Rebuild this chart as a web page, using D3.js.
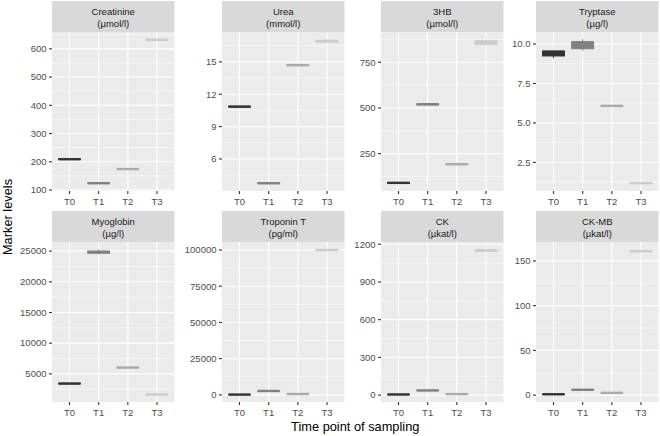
<!DOCTYPE html>
<html><head><meta charset="utf-8">
<script src="https://cdn.jsdelivr.net/npm/d3@7"></script>
<style>body{margin:0;background:#fff} svg{display:block} text{font-family:"Liberation Sans",Arial,Helvetica,sans-serif}</style>
</head><body><svg id="c" width="660" height="436"></svg>
<script>
// ---- data ----
const times = ["T0", "T1", "T2", "T3"];
const markers = ["Creatinine", "Urea", "3HB", "Tryptase", "Myoglobin", "Troponin T", "CK", "CK-MB"];
const units = ["(µmol/l)", "(mmol/l)", "(µmol/l)", "(µg/l)", "(µg/l)", "(pg/ml)", "(µkat/l)", "(µkat/l)"];
// five-number summaries per time point: [low whisker, q1, median, q3, high whisker]
const creatinine = [[207, 208, 209, 210, 211], [122, 123, 124, 125, 126], [172, 173, 174, 175, 176], [629, 630, 632, 633, 634]];
const urea = [[10.8, 10.82, 10.85, 10.88, 10.9], [3.7, 3.72, 3.75, 3.78, 3.8], [14.55, 14.65, 14.7, 14.75, 14.8], [16.8, 16.85, 16.9, 17.0, 17.1]];
const hb3 = [[85, 87, 90, 92, 95], [515, 517, 520, 522, 525], [188, 190, 192, 194, 196], [842, 848, 858, 868, 876]];
const tryptase = [[9.1, 9.24, 9.4, 9.56, 9.6], [9.57, 9.7, 9.95, 10.15, 10.3], [6.05, 6.07, 6.08, 6.1, 6.12], [1.15, 1.17, 1.19, 1.21, 1.23]];
const myoglobin = [[3350, 3380, 3420, 3460, 3500], [24500, 24650, 24850, 25000, 25300], [5950, 6000, 6030, 6060, 6100], [1600, 1620, 1640, 1660, 1680]];
const troponinT = [[100, 150, 200, 250, 300], [2400, 2550, 2700, 2850, 3000], [400, 500, 600, 700, 800], [99500, 99800, 100000, 100200, 100500]];
const ck = [[3, 4, 5, 6, 7], [35, 36, 37, 38, 39], [6, 7, 8, 9, 10], [1140, 1145, 1150, 1155, 1160]];
const ckmb = [[0.5, 0.8, 1, 1.2, 1.5], [5.5, 5.8, 6, 6.2, 6.5], [2.2, 2.4, 2.6, 2.8, 3], [160, 160.4, 160.8, 161.2, 163]];
// y tick labels per panel
const ticksCreatinine = [100, 200, 300, 400, 500, 600];
const ticksUrea = [6, 9, 12, 15];
const ticks3HB = [250, 500, 750];
const ticksTryptase = [2.5, 5.0, 7.5, 10.0];
const ticksMyoglobin = [5000, 10000, 15000, 20000, 25000];
const ticksTroponinT = [0, 25000, 50000, 75000, 100000];
const ticksCK = [0, 300, 600, 900, 1200];
const ticksCKMB = [0, 50, 100, 150];

const seriesList = [creatinine, urea, hb3, tryptase, myoglobin, troponinT, ck, ckmb];
const tickList = [ticksCreatinine, ticksUrea, ticks3HB, ticksTryptase, ticksMyoglobin, ticksTroponinT, ticksCK, ticksCKMB];
const tickFmt = [d3.format("d"), d3.format("d"), d3.format("d"), d3.format(".1f"), d3.format("d"), d3.format("d"), d3.format("d"), d3.format("d")];

// ---- layout ----
const svg = d3.select("#c");
const colLeft = [52, 222, 381, 536], panelW = 122.5;
const rowTop = [1, 211], stripH = 31, panelH = [159, 160];
const colors = ["#333333", "#818181", "#ABABAB", "#CCCCCC"];

markers.forEach((m, i) => {
  const col = i % 4, row = Math.floor(i / 4);
  const x0 = colLeft[col], sy = rowTop[row], y0 = sy + stripH, h = panelH[row];
  const data = seriesList[i];
  const lo = d3.min(data, d => d[0]), hi = d3.max(data, d => d[4]);
  const r = hi - lo;
  const y = d3.scaleLinear().domain([lo - 0.05 * r, hi + 0.05 * r]).range([h, 0]);
  const x = d3.scalePoint().domain(times).range([0, panelW]).padding(0.6);
  const bw = 0.75 * x.step();

  // strip
  svg.append("rect").attr("x", x0).attr("y", sy).attr("width", panelW).attr("height", stripH).attr("fill", "#D9D9D9");
  const st = svg.append("text").attr("text-anchor", "middle").attr("font-size", "9.5px").attr("fill", "#1A1A1A");
  st.append("tspan").attr("x", x0 + panelW / 2).attr("y", sy + 14).text(m);
  st.append("tspan").attr("x", x0 + panelW / 2).attr("y", sy + 25.5).text(units[i]);

  const g = svg.append("g").attr("transform", `translate(${x0},${y0})`);
  g.append("rect").attr("width", panelW).attr("height", h).attr("fill", "#EBEBEB");

  const ticks = tickList[i];
  const step = ticks[1] - ticks[0];
  const [d0, d1] = y.domain();
  const minors = [];
  for (let v = ticks[0] - step / 2; v <= d1; v += step) if (v >= d0) minors.push(v);
  g.selectAll(".mn").data(minors).join("line")
    .attr("x1", 0).attr("x2", panelW).attr("y1", d => y(d)).attr("y2", d => y(d))
    .attr("stroke", "#fff").attr("stroke-width", 0.55);
  g.selectAll(".mj").data(ticks).join("line")
    .attr("x1", 0).attr("x2", panelW).attr("y1", d => y(d)).attr("y2", d => y(d))
    .attr("stroke", "#fff").attr("stroke-width", 1.1);
  g.selectAll(".vx").data(times).join("line")
    .attr("x1", d => x(d)).attr("x2", d => x(d)).attr("y1", 0).attr("y2", h)
    .attr("stroke", "#fff").attr("stroke-width", 1.1);

  // y axis
  g.selectAll(".yt").data(ticks).join("line")
    .attr("x1", -3).attr("x2", 0).attr("y1", d => y(d)).attr("y2", d => y(d))
    .attr("stroke", "#333").attr("stroke-width", 1.1);
  g.selectAll(".yl").data(ticks).join("text")
    .attr("x", -5.5).attr("y", d => y(d)).attr("dy", "0.35em").attr("text-anchor", "end")
    .attr("font-size", "9.5px").attr("fill", "#4D4D4D").text(d => tickFmt[i](d));
  // x axis
  g.selectAll(".xt").data(times).join("line")
    .attr("x1", d => x(d)).attr("x2", d => x(d)).attr("y1", h).attr("y2", h + 3)
    .attr("stroke", "#333").attr("stroke-width", 1.1);
  g.selectAll(".xl").data(times).join("text")
    .attr("x", d => x(d)).attr("y", h + 14).attr("text-anchor", "middle")
    .attr("font-size", "9.5px").attr("fill", "#4D4D4D").text(d => d);

  // boxes
  data.forEach((d, j) => {
    const cx = x(times[j]), c = colors[j];
    g.append("line").attr("x1", cx).attr("x2", cx).attr("y1", y(d[0])).attr("y2", y(d[4]))
      .attr("stroke", c).attr("stroke-width", 1);
    g.append("rect").attr("x", cx - bw / 2).attr("y", y(d[3])).attr("width", bw)
      .attr("height", Math.max(0, y(d[1]) - y(d[3])))
      .attr("fill", c).attr("stroke", c).attr("stroke-width", 1);
    g.append("line").attr("x1", cx - bw / 2).attr("x2", cx + bw / 2).attr("y1", y(d[2])).attr("y2", y(d[2]))
      .attr("stroke", c).attr("stroke-width", 2.4);
  });
});

// axis titles
svg.append("text").attr("x", (colLeft[0] + colLeft[3] + panelW) / 2).attr("y", 431)
  .attr("text-anchor", "middle").attr("font-size", "12.8px").attr("fill", "#000").text("Time point of sampling");
svg.append("text").attr("transform", "translate(11.5,217) rotate(-90)")
  .attr("text-anchor", "middle").attr("font-size", "12.8px").attr("fill", "#000").text("Marker levels");
</script></body></html>
